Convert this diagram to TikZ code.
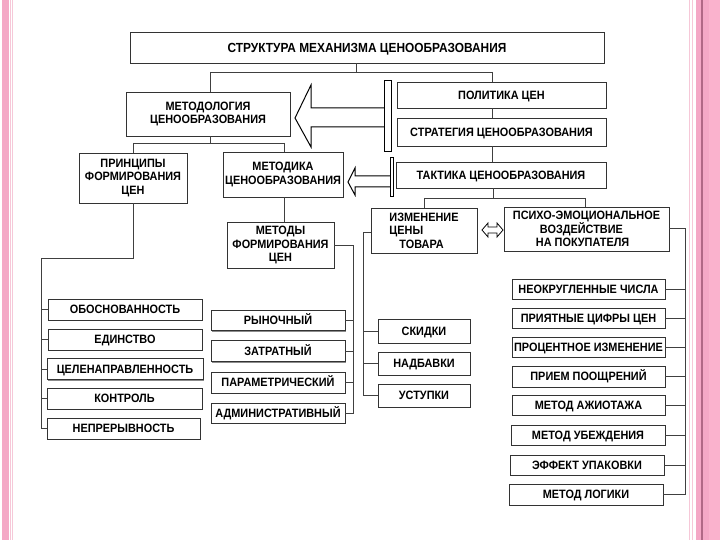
\documentclass[tikz,border=0pt]{standalone}
\usepackage{fontspec}
\setmainfont{Liberation Sans}[FakeStretch=0.9]
\usetikzlibrary{shadows}
\definecolor{pinkA}{RGB}{244,168,198}
\definecolor{pinkB}{RGB}{250,178,205}
\definecolor{pinkL}{RGB}{246,200,216}
\definecolor{pinkD}{RGB}{176,104,134}
\begin{document}
\begin{tikzpicture}[x=1pt,y=-1pt,
  box/.style={draw=black!80, line width=0.8pt, fill=white,
    font=\fontsize{12.1}{13.6}\selectfont\bfseries, align=center, inner sep=0pt,
    drop shadow={shadow xshift=1pt, shadow yshift=-1pt, fill=black!45, opacity=1}},
  single/.style={box, text height=8.7pt, text depth=0pt},
  titlebox/.style={box, font=\fontsize{13.2}{14}\selectfont\bfseries, text height=9.5pt, text depth=0pt},
  conn/.style={draw=black!75, line width=0.7pt},
  bigarrow/.style={draw=black, line width=1pt, fill=white, line join=miter},
  dblarrow/.style={draw=black, line width=0.8pt, fill=white, line join=miter},
  bar/.style={draw=black, line width=1pt, fill=white}]
% background and margins
\fill[white] (0,0) rectangle (720,540);
\useasboundingbox (0,0) rectangle (720,540);
\fill[pinkA] (2,0) rectangle (9,540);
\draw[pinkL, line width=0.8pt] (10.5,0) -- (10.5,540) (12.5,0) -- (12.5,540);
\draw[pinkL, line width=1pt] (689.5,0) -- (689.5,540) (692.5,0) -- (692.5,540);
\fill[pinkA] (696,0) rectangle (720,540);
\fill[pinkB] (709,0) rectangle (720,540);
\fill[pinkD] (701,0) rectangle (702.5,540);

% top level
\node[titlebox, minimum width=474, minimum height=31] (title) at (367,47.5) {СТРУКТУРА МЕХАНИЗМА ЦЕНООБРАЗОВАНИЯ};
\node[box, minimum width=164, minimum height=44] (met) at (208,114) {МЕТОДОЛОГИЯ\\ЦЕНООБРАЗОВАНИЯ};
\node[single, minimum width=209, minimum height=26] (pol) at (501.5,95) {ПОЛИТИКА ЦЕН};
\node[single, minimum width=209, minimum height=28] (str) at (501.5,132) {СТРАТЕГИЯ ЦЕНООБРАЗОВАНИЯ};
\node[single, minimum width=210, minimum height=26] (tak) at (501,175) {ТАКТИКА ЦЕНООБРАЗОВАНИЯ};

% second level
\node[box, minimum width=108, minimum height=50] (prin) at (133,178) {ПРИНЦИПЫ\\ФОРМИРОВАНИЯ\\ЦЕН};
\node[box, minimum width=120, minimum height=45] (metk) at (283,174.5) {МЕТОДИКА\\ЦЕНООБРАЗОВАНИЯ};
\node[box, minimum width=107, minimum height=46] (mety) at (280.5,245) {МЕТОДЫ\\ФОРМИРОВАНИЯ\\ЦЕН};
\node[box, minimum width=106, minimum height=45, align=left] (izm) at (424,230.5) {ИЗМЕНЕНИЕ\\ЦЕНЫ\\\hspace*{10pt}ТОВАРА};
\node[box, minimum width=165, minimum height=44, align=left] (psy) at (586.5,229) {ПСИХО-ЭМОЦИОНАЛЬНОЕ\\\hspace*{27pt}ВОЗДЕЙСТВИЕ\\\hspace*{23pt}НА ПОКУПАТЕЛЯ};

% principles list
\node[single, minimum width=154, minimum height=21] (p1) at (125,309.5) {ОБОСНОВАННОСТЬ};
\node[single, minimum width=154, minimum height=21] (p2) at (125,339.5) {ЕДИНСТВО};
\node[single, minimum width=156, minimum height=21] (p3) at (125,369) {ЦЕЛЕНАПРАВЛЕННОСТЬ};
\node[single, minimum width=155, minimum height=21] (p4) at (124.5,398.5) {КОНТРОЛЬ};
\node[single, minimum width=153, minimum height=21] (p5) at (123.5,428.5) {НЕПРЕРЫВНОСТЬ};

% methods list
\node[single, minimum width=134, minimum height=20] (m1) at (278,320.5) {РЫНОЧНЫЙ};
\node[single, minimum width=134, minimum height=21] (m2) at (278,351) {ЗАТРАТНЫЙ};
\node[single, minimum width=134, minimum height=21] (m3) at (278,382.5) {ПАРАМЕТРИЧЕСКИЙ};
\node[single, minimum width=134, minimum height=20] (m4) at (278,413) {АДМИНИСТРАТИВНЫЙ};

% price change list
\node[single, minimum width=92, minimum height=24] (s1) at (424,331) {СКИДКИ};
\node[single, minimum width=92, minimum height=23] (s2) at (424,363.5) {НАДБАВКИ};
\node[single, minimum width=92, minimum height=23] (s3) at (424,395.5) {УСТУПКИ};

% psycho list
\node[single, minimum width=153, minimum height=20] (r1) at (588.5,289) {НЕОКРУГЛЕННЫЕ ЧИСЛА};
\node[single, minimum width=153, minimum height=20] (r2) at (588.5,318) {ПРИЯТНЫЕ ЦИФРЫ ЦЕН};
\node[single, minimum width=153, minimum height=20] (r3) at (588.5,347) {ПРОЦЕНТНОЕ ИЗМЕНЕНИЕ};
\node[single, minimum width=153, minimum height=21] (r4) at (588.5,376.5) {ПРИЕМ ПООЩРЕНИЙ};
\node[single, minimum width=153, minimum height=20] (r5) at (588.5,405) {МЕТОД АЖИОТАЖА};
\node[single, minimum width=154, minimum height=20] (r6) at (588,435) {МЕТОД УБЕЖДЕНИЯ};
\node[single, minimum width=154, minimum height=20] (r7) at (587,465) {ЭФФЕКТ УПАКОВКИ};
\node[single, minimum width=154, minimum height=21] (r8) at (586,494.5) {МЕТОД ЛОГИКИ};

% junction coordinates
\coordinate (cT) at (356,72);
\coordinate (cTL) at (210,72);
\coordinate (cTR) at (492,72);
\coordinate (cM) at (210,143);
\coordinate (cML) at (133,143);
\coordinate (cMR) at (284,143);
\coordinate (cK) at (493,198);
\coordinate (cKL) at (424,198);
\coordinate (cKR) at (585,198);
\coordinate (cP) at (133,258);
\coordinate (cPL) at (41,258);
\coordinate (cY) at (353,245);
\coordinate (cI) at (363,232);
\coordinate (cR) at (685,228);

% connectors top
\draw[conn] (title.south -| cT) -- (cT);
\draw[conn] (cTL) -- (cTR);
\draw[conn] (cTL) -- (met.north -| cTL);
\draw[conn] (cTR) -- (pol.north -| cTR);
\draw[conn] (pol.south -| cTR) -- (str.north -| cTR);
\draw[conn] (str.south -| cTR) -- (tak.north -| cTR);
% methodology
\draw[conn] (met.south -| cM) -- (cM);
\draw[conn] (cML) -- (cMR);
\draw[conn] (cML) -- (prin.north -| cML);
\draw[conn] (cMR) -- (metk.north -| cMR);
\draw[conn] (metk.south -| cMR) -- (mety.north -| cMR);
% tactics
\draw[conn] (tak.south -| cK) -- (cK);
\draw[conn] (cKL) -- (cKR);
\draw[conn] (cKL) -- (izm.north -| cKL);
\draw[conn] (cKR) -- (psy.north -| cKR);
% principles
\draw[conn] (prin.south -| cP) -- (cP) -- (cPL) -- (p5.west -| cPL) -- (p5.west);
\foreach \n in {p1,p2,p3,p4} \draw[conn] (\n.west) -- (\n.west -| cPL);
% methods
\draw[conn] (mety.east |- cY) -- (cY) -- (m4.east -| cY) -- (m4.east);
\foreach \n in {m1,m2,m3} \draw[conn] (\n.east) -- (\n.east -| cY);
% price change
\draw[conn] (izm.west |- cI) -- (cI) -- (s3.west -| cI) -- (s3.west);
\foreach \n in {s1,s2} \draw[conn] (\n.west) -- (\n.west -| cI);
% psycho
\draw[conn] (psy.east |- cR) -- (cR) -- (r8.east -| cR) -- (r8.east);
\foreach \n in {r1,r2,r3,r4,r5,r6,r7} \draw[conn] (\n.east) -- (\n.east -| cR);

% hollow double arrow between izm and psy
\draw[dblarrow] (482,230) -- (488,223) -- (488,227) -- (497,227) -- (497,223) -- (503,230)
  -- (497,237) -- (497,233) -- (488,233) -- (488,237) -- cycle;

% big hollow arrow to methodology
\draw[bigarrow] (384,108) -- (311,108) -- (311,85) -- (295,118) -- (311,147) -- (311,127) -- (384,127);
\draw[bar] (384,81) rectangle (391,152);
% small hollow arrow to methodika
\draw[bigarrow] (391,176) -- (355,176) -- (355,168) -- (348,182) -- (355,195) -- (355,187) -- (391,187);
\draw[bar] (390,158) rectangle (393,197);
\end{tikzpicture}
\end{document}
